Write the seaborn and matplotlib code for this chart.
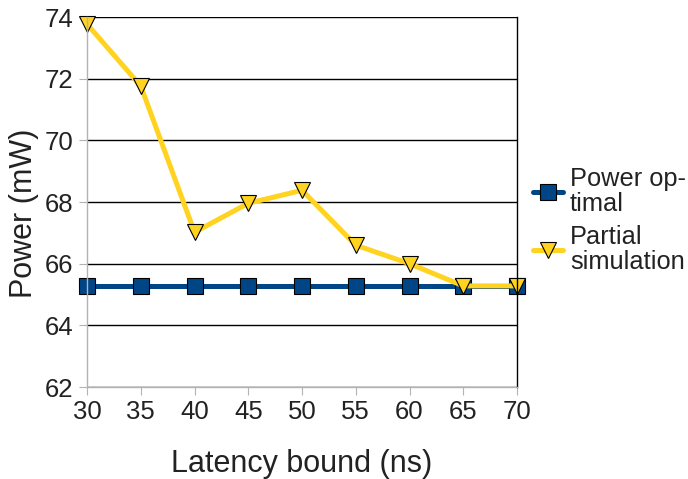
import matplotlib
matplotlib.use('Agg')
import matplotlib.pyplot as plt
import seaborn as sns
import pandas as pd

latency = [30, 35, 40, 45, 50, 55, 60, 65, 70]
power_optimal = [65.27, 65.27, 65.27, 65.27, 65.27, 65.27, 65.27, 65.27, 65.27]
partial_sim = [73.77, 71.76, 67.02, 67.96, 68.38, 66.6, 66.0, 65.28, 65.28]
series_names = ['Power op-\ntimal', 'Partial\nsimulation']

df = pd.DataFrame({
    'latency': latency * 2,
    'power': power_optimal + partial_sim,
    'series': [series_names[0]] * len(latency) + [series_names[1]] * len(latency),
})

sns.set_style('white')
plt.rcParams['font.family'] = ['Liberation Sans', 'DejaVu Sans']

fig = plt.figure(figsize=(6.88, 4.79), dpi=100)
ax = fig.add_axes([0.1265, 0.192, 0.625, 0.7725])

sns.lineplot(data=df, x='latency', y='power', hue='series', style='series',
             palette=['#004586', '#ffd320'], markers=['s', 'v'], dashes=False,
             linewidth=3.6, markersize=11, markeredgecolor='black',
             markeredgewidth=0.8, ax=ax)

ax.set_xlim(30, 70)
ax.set_ylim(62, 74)
ax.set_xticks(range(30, 71, 5))
ax.set_yticks(range(62, 75, 2))
ax.yaxis.grid(True, color='black', linewidth=1)
ax.set_axisbelow(True)
for side in ['left', 'bottom']:
    ax.spines[side].set_color('#b3b3b3')
ax.spines['right'].set_color('black')
ax.spines['top'].set_visible(False)
for sp in ax.spines.values():
    sp.set_linewidth(1)
ax.tick_params(axis='both', which='major', labelsize=18.5, length=6,
               color='#b3b3b3', direction='out', left=True, bottom=True,
               labelcolor='#222222')
ax.tick_params(axis='y', pad=4)
for ln in ax.lines:
    ln.set_clip_on(False)

ax.set_xlabel('Latency bound (ns)', fontsize=22, labelpad=18, color='#222222')
ax.set_ylabel('Power (mW)', fontsize=22, color='#222222')
ax.yaxis.set_label_coords(-0.112, 0.47)

leg = ax.legend(loc='center left', bbox_to_anchor=(1.037, 0.45), frameon=False,
                fontsize=18.3, handlelength=1.2, handletextpad=0.25,
                labelspacing=0.35, borderpad=0, borderaxespad=0)
for t in leg.get_texts():
    t.set_linespacing(1.05)
    t.set_color('#222222')

fig.savefig('out.png', dpi=100)
